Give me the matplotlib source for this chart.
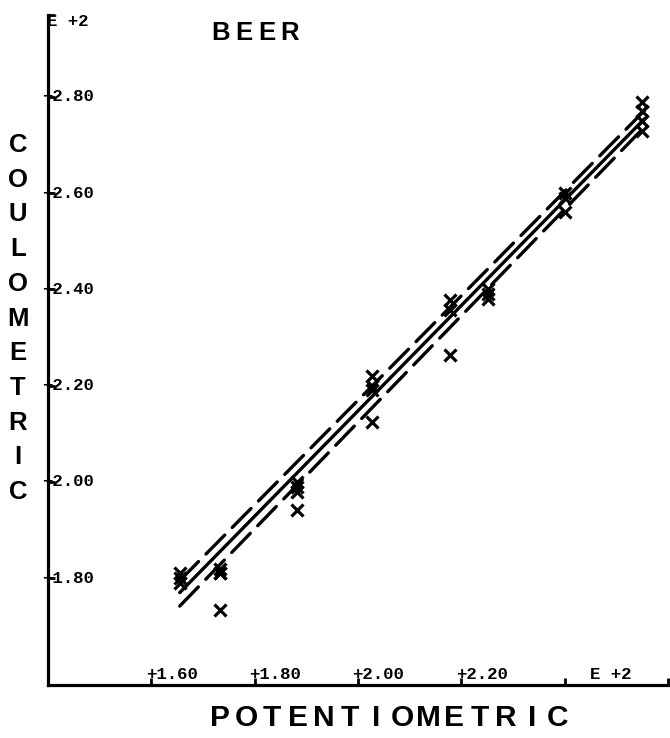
import matplotlib.pyplot as plt
import matplotlib.transforms as mtransforms

# values, in units of E+2
pot_x = [1.655, 1.655, 1.655,
         1.733, 1.733, 1.733, 1.733,
         1.882, 1.882, 1.882, 1.882,
         2.027, 2.027, 2.027, 2.027,
         2.178, 2.178, 2.178,
         2.252, 2.252, 2.252,
         2.400, 2.400, 2.400,
         2.550, 2.550, 2.550, 2.550]
coul_y = [1.81, 1.80, 1.79,
          1.82, 1.81, 1.81, 1.733,
          2.00, 1.99, 1.98, 1.941,
          2.22, 2.20, 2.19, 2.124,
          2.378, 2.357, 2.264,
          2.40, 2.39, 2.38,
          2.60, 2.59, 2.56,
          2.79, 2.77, 2.75, 2.73]

# regression line and its two dashed bounds
line_x = [1.655, 2.555]
fit_y = [1.770, 2.755]
upper_y = [1.795, 2.772]
lower_y = [1.742, 2.738]

x_ticks = [1.60, 1.80, 2.00, 2.20, 2.40, 2.60]
x_labels = ["+1.60", "+1.80", "+2.00", "+2.20", "", ""]
y_ticks = [1.80, 2.00, 2.20, 2.40, 2.60, 2.80]
y_labels = ["+1.80", "+2.00", "+2.20", "+2.40", "+2.60", "+2.80"]

W, H = 670, 738
fig = plt.figure(figsize=(W / 100, H / 100), dpi=100)
ax = fig.add_axes([48 / W, 53 / H, 620 / W, 670 / H])
ax.set_xlim(1.40, 2.60)
ax.set_ylim(1.578, 2.97)

ax.plot(line_x, fit_y, color="black", lw=2.4, solid_capstyle="round")
for yy in (upper_y, lower_y):
    ax.plot(line_x, yy, color="black", lw=2.4, dashes=(8, 3.2),
            dash_capstyle="round")
ax.plot(pot_x, coul_y, "x", color="black", ms=8, mew=2.3)

for side in ("top", "right"):
    ax.spines[side].set_visible(False)
for side in ("left", "bottom"):
    ax.spines[side].set_linewidth(2.3)

ax.set_xticks(x_ticks)
ax.set_yticks(y_ticks + [2.97])
ax.set_xticklabels([])
ax.set_yticklabels([])
ax.tick_params(direction="in", length=5, width=2)

mono = dict(family="Liberation Mono", weight="bold", fontsize=12.5, color="black")
off_x = mtransforms.offset_copy(ax.transData, fig=fig, x=-4, y=4, units="points")
for t, lab in zip(x_ticks, x_labels):
    if lab:
        ax.text(t, 1.578, lab, transform=off_x, ha="left", va="baseline", **mono)
ax.text(2.45, 1.578, "E +2", transform=mtransforms.offset_copy(
    ax.transData, fig=fig, y=4, units="points"), ha="left", va="baseline", **mono)

off_y = mtransforms.offset_copy(ax.transData, fig=fig, x=-4, units="points")
for t, lab in zip(y_ticks, y_labels):
    ax.text(1.40, t, lab, transform=off_y, ha="left", va="center", **mono)
ax.text(1.40, 2.956, "E +2", transform=mtransforms.offset_copy(
    ax.transData, fig=fig, x=-1, units="points"), ha="left", va="center", **mono)

sans = dict(family="Liberation Sans", weight="bold", color="black")
for i, ch in enumerate("BEER"):
    fig.text((221 + i * 23) / W, 1 - 33 / H, ch, ha="center", va="center",
             fontsize=18.5, **sans)
for i, ch in enumerate("COULOMETRIC"):
    fig.text(18 / W, 1 - (145 + i * 34.7) / H, ch, ha="center", va="center",
             fontsize=18.5, **sans)
for i, ch in enumerate("POTENTIOMETRIC"):
    fig.text((220 + i * 26) / W, 1 - 718 / H, ch, ha="center", va="center",
             fontsize=21.5, **sans)

fig.savefig("out.png", dpi=100)
